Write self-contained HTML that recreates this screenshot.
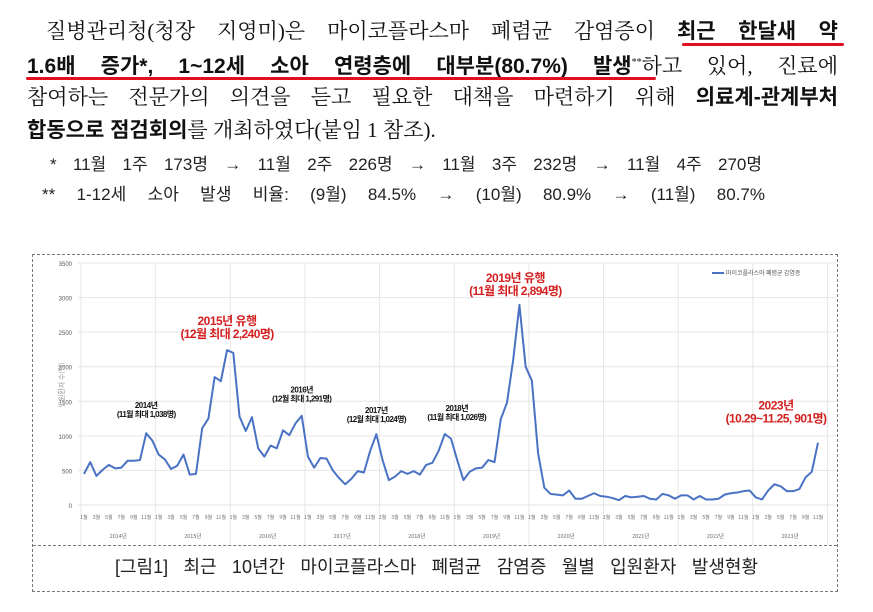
<!DOCTYPE html>
<html><head><meta charset="utf-8">
<style>
body{margin:0;width:873px;height:612px;background:#fff;position:relative;overflow:hidden;font-family:"Liberation Serif","Noto Serif CJK SC",serif;color:#111}
.ln{position:absolute;font-size:21px;white-space:nowrap;text-align:justify;text-align-last:justify;line-height:24px}
.b{font-weight:bold;font-family:"Liberation Sans","Noto Sans CJK KR",sans-serif}
.s{position:absolute;font-size:17px;white-space:nowrap;font-family:"Liberation Sans","Noto Sans CJK KR",sans-serif;color:#222;line-height:20px;text-align:justify;text-align-last:justify}
.ul{position:absolute;height:3px;background:#e01020;border-radius:2px}
</style></head><body>
<div class="ln" style="left:46px;top:19px;width:792px">질병관리청(청장 지영미)은 마이코플라스마 폐렴균 감염증이 <span class="b">최근 한달새 약</span></div>
<div class="ul" style="left:682px;top:43px;width:162px"></div>
<div class="ln" style="left:27px;top:51px;width:811px"><span class="b">1.6배 증가*, 1~12세 소아 연령층에 대부분(80.7%) 발생</span><sup style="font-size:10px">**</sup>하고 있어, 진료에</div>
<div class="ul" style="left:26px;top:77px;width:630px"></div>
<div class="ln" style="left:27px;top:85px;width:811px">참여하는 전문가의 의견을 듣고 필요한 대책을 마련하기 위해 <span class="b">의료계-관계부처</span></div>
<div class="ln" style="left:27px;top:118px;text-align:left;text-align-last:left"><span class="b">합동으로 점검회의</span>를 개최하였다(붙임 1 참조).</div>
<div class="s" style="left:50px;top:155px;width:712px">* 11월 1주 173명 → 11월 2주 226명 → 11월 3주 232명 → 11월 4주 270명</div>
<div class="s" style="left:42px;top:185px;width:723px">** 1-12세 소아 발생 비율: (9월) 84.5% → (10월) 80.9% → (11월) 80.7%</div>

<div style="position:absolute;left:32px;top:254px;width:804px;height:336px;border:1px dashed #777"></div>
<div style="position:absolute;left:33px;top:545px;width:804px;border-top:1px dashed #777"></div>
<div class="s" style="left:115px;top:557px;width:643px;font-size:18px">[그림1] 최근 10년간 마이코플라스마 폐렴균 감염증 월별 입원환자 발생현황</div>

<svg id="chart" width="873" height="612" style="position:absolute;left:0;top:0"></svg>
<script>
const years=["2014년","2015년","2016년","2017년","2018년","2019년","2020년","2021년","2022년","2023년"];
const yTicks=[0,500,1000,1500,2000,2500,3000,3500];
const values=[
450,620,420,510,580,530,540,640,640,650,1038,930,
730,660,520,570,730,440,450,1110,1250,1850,1790,2240,
2200,1280,1070,1270,820,700,860,820,1080,1010,1180,1291,
700,540,680,670,500,390,300,380,490,470,780,1024,
650,360,410,490,450,490,440,580,610,780,1026,960,
650,360,480,530,540,650,620,1240,1480,2100,2894,2000,
1800,750,250,160,150,140,210,90,90,130,170,130,
120,100,70,130,110,120,130,90,80,160,140,90,
140,140,80,130,80,80,90,150,170,180,200,210,
110,80,210,300,270,200,200,230,400,480,901];
const annotations=[
{i:10,t1:"2014년",t2:"(11월 최대 1,038명)",red:false,dy:-16,dx:0},
{i:23,t1:"2015년 유행",t2:"(12월 최대 2,240명)",red:true,dy:-12,dx:0},
{i:35,t1:"2016년",t2:"(12월 최대 1,291명)",red:false,dy:-14,dx:0},
{i:47,t1:"2017년",t2:"(12월 최대 1,024명)",red:false,dy:-12,dx:0},
{i:58,t1:"2018년",t2:"(11월 최대 1,026명)",red:false,dy:-14,dx:12},
{i:70,t1:"2019년 유행",t2:"(11월 최대 2,894명)",red:true,dy:-10,dx:-4},
{i:118,t1:"2023년",t2:"(10.29~11.25, 901명)",red:true,dy:-20,dx:-42}];
const svg=document.getElementById('chart');const NS='http://www.w3.org/2000/svg';
const x0=84,x1=818,yb=505,yt=263,ymax=3500;
const X=i=>x0+(x1-x0)*i/(values.length-1);
const Y=v=>yb-(yb-yt)*v/ymax;
function mk(tag,a,txt){const e=document.createElementNS(NS,tag);for(const k in a)e.setAttribute(k,a[k]);if(txt!==undefined)e.textContent=txt;svg.appendChild(e);return e;}
yTicks.forEach(v=>{
 const g=mk('line',{x1:x0-6,x2:x1+18,y1:Y(v),y2:Y(v),stroke:'#e6e6e6','stroke-width':1});
 
 const t=mk('text',{x:x0-12,y:Y(v)+3,'font-size':6,'text-anchor':'end',fill:'#555','font-family':'Liberation Sans'},v);
 
});
const ya=mk('text',{x:64,y:385,'font-size':7,fill:'#999','text-anchor':'middle',transform:'rotate(-90 64 385)','font-family':'Noto Sans CJK KR'},'입원환자 수(명)');

for(let y=0;y<=years.length;y++){
 const xx=X(y*12)-3;
 const l=mk('line',{x1:xx,x2:xx,y1:yt,y2:545,stroke:'#e6e6e6','stroke-width':1});
 
 if(y<years.length){const t=mk('text',{x:X(y*12+5.5),y:538,'font-size':5.5,'text-anchor':'middle',fill:'#666','font-family':'Noto Sans CJK KR'},years[y]);
 }
}
values.forEach((v,i)=>{if(i%2===0){const t=mk('text',{x:X(i),y:519,'font-size':5,'text-anchor':'middle',fill:'#666','font-family':'Noto Sans CJK KR'},(i%12+1)+'월');
 }});
const p=mk('polyline',{points:values.map((v,i)=>X(i)+','+Y(v)).join(' '),fill:'none',stroke:'#4a72c4','stroke-width':2,'stroke-linejoin':'round'});

annotations.forEach(a=>{
 const cx=X(a.i)+a.dx,cy=Y(values[a.i])+a.dy;const col=a.red?'#d42020':'#111';const fs=a.red?12:8;
 const t1=mk('text',{x:cx,y:cy-fs-1,'font-size':fs,'text-anchor':'middle',fill:col,'font-weight':'bold','font-family':'Liberation Sans, Noto Sans CJK KR','letter-spacing':-0.5},a.t1);
 
 const t2=mk('text',{x:cx,y:cy,'font-size':fs,'text-anchor':'middle',fill:col,'font-weight':'bold','font-family':'Liberation Sans, Noto Sans CJK KR','letter-spacing':-0.6},a.t2);
 
});
const ll=mk('line',{x1:712,x2:724,y1:273,y2:273,stroke:'#4a72c4','stroke-width':2});

const lt=mk('text',{x:726,y:275,'font-size':6,fill:'#555','font-family':'Noto Sans CJK KR'},'마이코플라스마 폐렴균 감염증');

</script>
</body></html>
